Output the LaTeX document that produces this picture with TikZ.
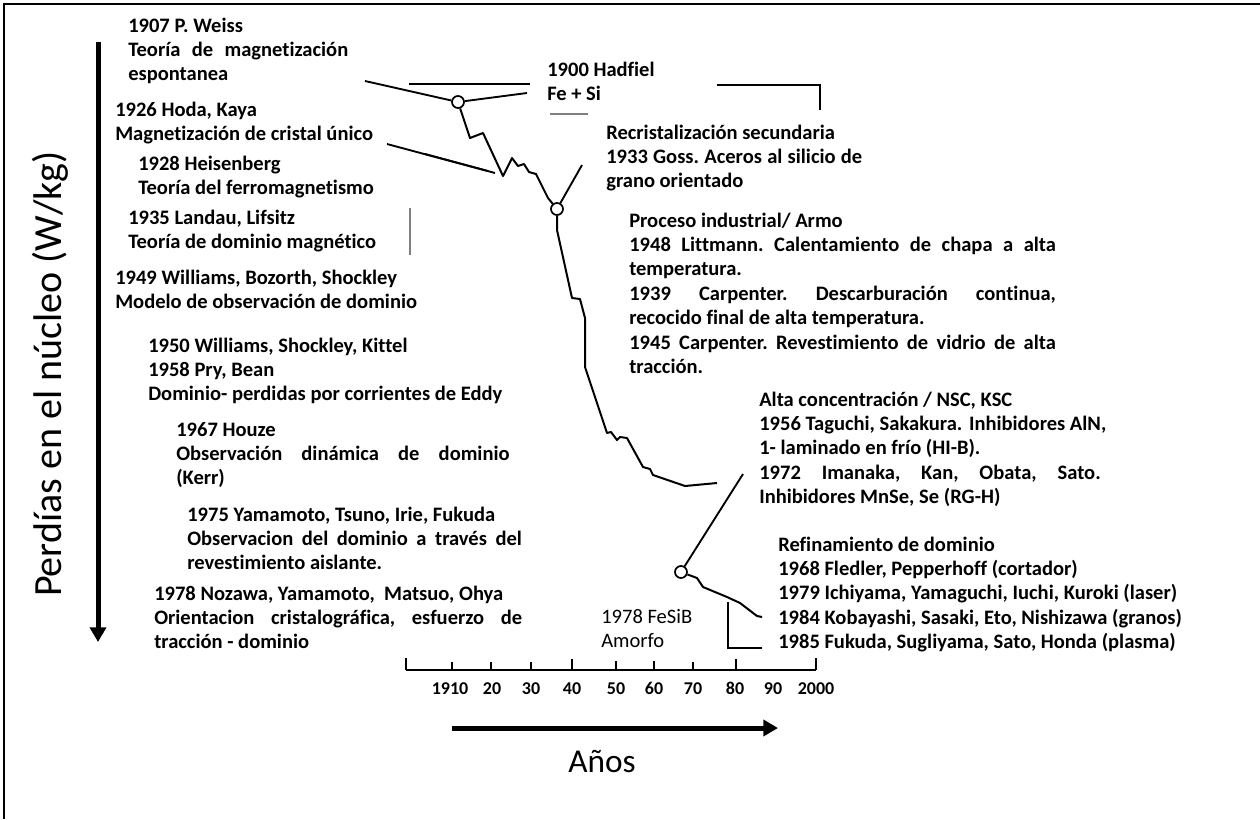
\documentclass[tikz,border=0pt]{standalone}
\usepackage{fontspec}
\setmainfont{Carlito}[Ligatures=CommonOff]
\usetikzlibrary{arrows.meta}
\newcommand{\jl}[2]{\leavevmode\hbox to #1{\frenchspacing\spaceskip=\fontdimen2\font plus 1fill\relax\xspaceskip=\spaceskip #2}}
\tikzset{
  lbl/.style={anchor=base west, inner sep=0pt, align=left, text width=#1,
    font=\bfseries\fontsize{15.4}{18.3}\selectfont\frenchspacing,
    execute at begin node={\spaceskip=0pt\xspaceskip=0pt\relax}},
  lbl/.default=350pt,
  curve/.style={line width=1.5pt, line join=round},
  lead/.style={line width=1.4pt},
  faint/.style={line width=0.9pt, gray},
  ring/.style={circle, draw, line width=1.3pt, fill=white, minimum size=9pt, inner sep=0pt},
  tick/.style={line width=1.3pt},
  ticklbl/.style={anchor=base, inner sep=0pt, font=\bfseries\fontsize{13.5}{15}\selectfont},
  bigarrow/.style={line width=3.75pt, -{Triangle[width=12pt,length=11pt]}},
}
\begin{document}
\begin{tikzpicture}[x=0.75pt,y=-0.75pt]
\useasboundingbox (0,0) rectangle (1260,819);
% frame
\draw[line width=1.5pt] (4,819) -- (4,4) -- (1260,4);

% axis titles
\node[rotate=90, inner sep=0pt, font=\fontsize{30}{33}\selectfont] (ylab) at (50,374) {Perdías en el núcleo (W/kg)};
\coordinate (vtop) at (98,42);
\coordinate (vbot) at (98,642);
\draw[bigarrow] (vtop) -- (vbot);
\coordinate (htail) at (452,728);
\coordinate (hhead) at (778,728);
\draw[bigarrow] (htail) -- (hhead);
\node[anchor=base, inner sep=0pt, font=\fontsize{25}{28}\selectfont] (xlab) at (602,772) {Años};

% left text blocks
\node[lbl=165pt] (weiss) at (128,32) {1907 P. Weiss\\\jl{165pt}{Teoría de magnetización}\\espontanea};
\node[lbl] (hoda) at (115,116) {1926 Hoda, Kaya\\Magnetización de cristal único};
\node[lbl] (heis) at (138,170) {1928 Heisenberg\\Teoría del ferromagnetismo};
\node[lbl] (landau) at (128,224) {1935 Landau, Lifsitz\\Teoría de dominio magnético};
\node[lbl] (will) at (115,284) {1949 Williams, Bozorth, Shockley\\Modelo de observación de dominio};
\node[lbl] (kittel) at (148,352) {1950 Williams, Shockley, Kittel\\1958 Pry, Bean\\Dominio- perdidas por corrientes de Eddy};
\node[lbl=250pt] (houze) at (176,436) {1967 Houze\\\jl{250pt}{Observación dinámica de dominio}\\(Kerr)};
\node[lbl=251pt] (yama) at (187,521) {1975 Yamamoto, Tsuno, Irie, Fukuda\\\jl{251pt}{Observacion del dominio a través del}\\revestimiento aislante.};
\node[lbl=276pt] (noz) at (154,600) {1978 Nozawa, Yamamoto,\ \ Matsuo, Ohya\\\jl{276pt}{Orientacion cristalográfica, esfuerzo de}\\tracción - dominio};

% right text blocks
\node[lbl] (hadf) at (547,76) {1900 Hadfiel\\Fe + Si};
\node[lbl=192pt] (goss) at (606,139) {Recristalización secundaria\\\jl{192pt}{1933 Goss. Aceros al silicio de}\\grano orientado};
\node[lbl=320pt] (armo) at (629,227) {Proceso industrial/ Armo\\\jl{320pt}{1948 Littmann.\hspace{8pt}Calentamiento de chapa a alta}\\temperatura.\\\jl{320pt}{1939 Carpenter. Descarburación continua,}\\recocido final de alta temperatura.\\\jl{320pt}{1945 Carpenter. Revestimiento de vidrio de alta}\\tracción.};
\node[lbl=256pt] (nsc) at (759,406) {Alta concentración / NSC, KSC\\\jl{256pt}{1956 Taguchi, Sakakura.\hspace{5pt}Inhibidores AlN,}\\1- laminado en frío (HI-B).\\\jl{256pt}{1972 Imanaka, Kan, Obata, Sato.}\\Inhibidores MnSe, Se (RG-H)};
\node[lbl] (refin) at (778,551) {Refinamiento de dominio\\1968 Fledler, Pepperhoff (cortador)\\1979 Ichiyama, Yamaguchi,\ Iuchi, Kuroki (laser)\\1984 Kobayashi, Sasaki, Eto, Nishizawa (granos)\\1985 Fukuda, Sugliyama, Sato, Honda (plasma)};
\node[lbl=120pt, font=\fontsize{15.4}{18.3}\selectfont] (fesib) at (601,623) {1978 FeSiB\\Amorfo};

% curve rings
\node[ring] (c1) at (458,102) {};
\node[ring] (c2) at (557,209) {};
\node[ring] (c3) at (681,572) {};

% main loss curve
\draw[curve] (c1) -- (470,138) -- (483,133) -- (503,176) -- (512,158) -- (518,166) -- (524,164)
  -- (529,172) -- (536,174) -- (541,184) -- (548,198) -- (c2);
\draw[curve] (c2) -- (557,230) -- (572,298) -- (580,299) -- (585,318) -- (585,367) -- (607,433)
  -- (611,432) -- (617,440) -- (620,437) -- (627,438) -- (643,467) -- (650,469) -- (653,475)
  -- (685,486) -- (717,483);
\draw[curve] (c3) -- (697,578) -- (703,587) -- (727,597) -- (740,603) -- (757,616) -- (762,617);

% leader lines
\coordinate (lw) at (365,81);
\draw[lead] (lw) -- (c1);
\coordinate (lh1) at (409,84);
\coordinate (lh2) at (530,84);
\draw[lead] (lh1) -- (lh2);
\coordinate (lf) at (527,93);
\draw[lead] (c1) -- (lf);
\coordinate (g1) at (550,114);
\coordinate (g2) at (588,114);
\draw[faint] (g1) -- (g2);
\coordinate (br1) at (717,85);
\coordinate (br2) at (820,85);
\coordinate (br3) at (820,110);
\draw[lead] (br1) -- (br2) -- (br3);
\coordinate (hk1) at (387,144);
\coordinate (hk2) at (495,173);
\draw[lead] (hk1) -- (hk2);
\coordinate (hk3) at (425,154);
\coordinate (hk4) at (488,171);
\draw[lead] (hk3) -- (hk4);
\coordinate (gs) at (582,165);
\draw[lead] (gs) -- (c2);
\coordinate (v1) at (410,208);
\coordinate (v2) at (410,255);
\draw[faint] (v1) -- (v2);
\coordinate (ns) at (743,474);
\draw[lead] (ns) -- (c3);
\coordinate (lb1) at (728,602);
\coordinate (lb2) at (728,648);
\coordinate (lb3) at (762,648);
\draw[lead] (lb1) -- (lb2) -- (lb3);

% year axis
\coordinate (a0) at (406,670);
\coordinate (a1) at (816,670);
\draw[tick] (a0) -- (a1);
\foreach \x/\h in {406/12, 452/8, 491/8, 531/8, 572/11, 616/9, 654/9, 693/8, 736/11, 816/12}
  \draw[tick] (\x,670) -- (\x,670-\h);
\foreach \x/\t in {450/1910, 492/20, 531/30, 572/40, 616/50, 654/60, 693/70, 735/80, 773/90, 816/2000}
  \node[ticklbl] at (\x,694) {\t};
\end{tikzpicture}
\end{document}
